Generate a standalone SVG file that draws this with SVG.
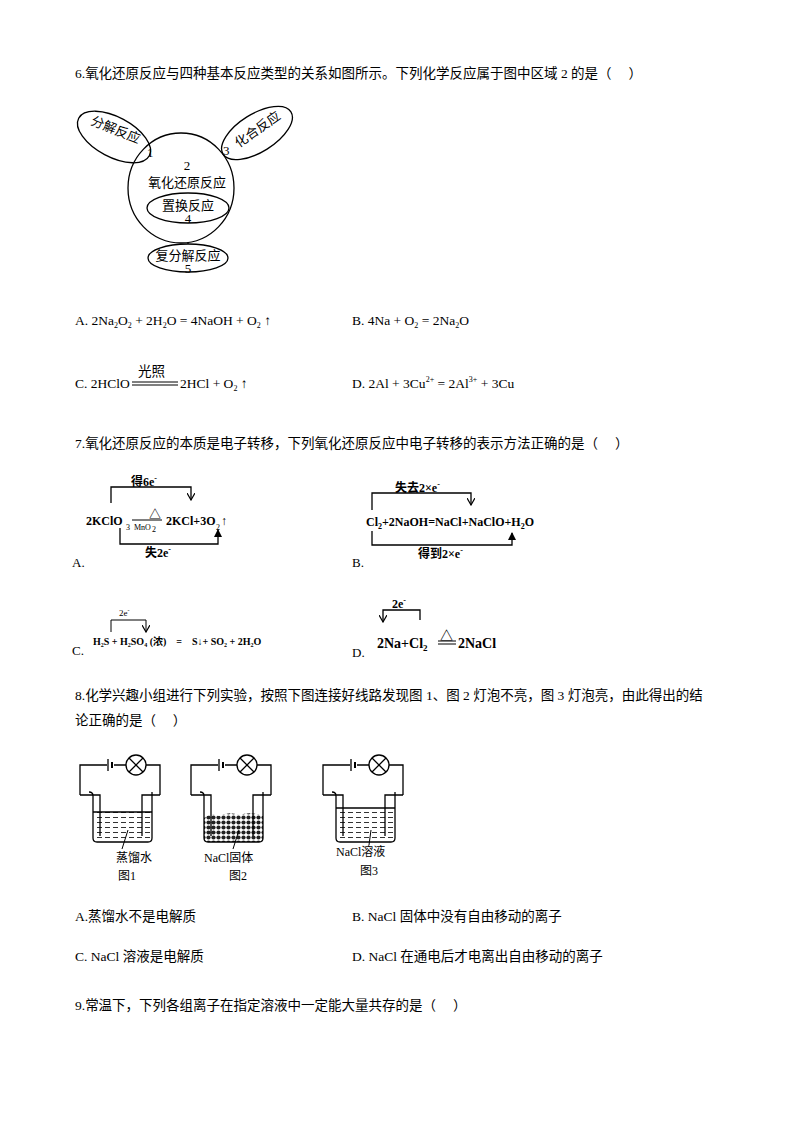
<svg xmlns="http://www.w3.org/2000/svg" width="794" height="1123" viewBox="0 0 794 1123">
<style>
text{font-family:"Liberation Serif","Noto Sans CJK SC",serif;font-size:13px;fill:#000}
.q{font-family:"Liberation Serif","Noto Sans CJK SC",serif;font-size:13.5px}
.s{fill:none;stroke:#000;stroke-width:1.3}
.b{font-weight:bold;font-size:12px}
.sm{font-size:12px}
.u{font-size:8px}
</style>
<defs>
<marker id="ar" markerWidth="8" markerHeight="8" refX="4" refY="7" orient="0" markerUnits="userSpaceOnUse"><path d="M0,0 L4,7 L8,0" fill="none" stroke="#000" stroke-width="1.2"/></marker>
<marker id="au" markerWidth="8" markerHeight="8" refX="4" refY="1" orient="0" markerUnits="userSpaceOnUse"><path d="M0,8 L4,0 L8,8 Z" fill="#000"/></marker>
<pattern id="liq" width="8" height="5" patternUnits="userSpaceOnUse"><path d="M1,2.5 H6" stroke="#333" stroke-width="1"/></pattern>
<pattern id="sol" width="5" height="5" patternUnits="userSpaceOnUse"><rect width="5" height="5" fill="#fff"/><circle cx="2.5" cy="2.5" r="2.1" fill="#222"/></pattern>
</defs>

<text class="q" x="75" y="78">6.氧化还原反应与四种基本反应类型的关系如图所示。下列化学反应属于图中区域 2 的是（　  ）</text>

<g id="venn">
<ellipse class="s" cx="181" cy="188" rx="53" ry="55"/>
<ellipse class="s" cx="114" cy="137" rx="40" ry="20" transform="rotate(28 114 137)"/>
<ellipse class="s" cx="257" cy="133" rx="40" ry="19" transform="rotate(-32 257 133)"/>
<ellipse class="s" cx="188" cy="208" rx="41" ry="15"/>
<ellipse class="s" cx="188" cy="258" rx="40" ry="14"/>
<line class="s" x1="188" y1="243" x2="188" y2="244"/>
<text x="114" y="134" text-anchor="middle" transform="rotate(22 114 134)">分解反应</text>
<text x="147" y="157">1</text>
<text x="260" y="133" text-anchor="middle" transform="rotate(-35 260 133)">化合反应</text>
<text x="223" y="155">3</text>
<text x="187" y="170" text-anchor="middle">2</text>
<text x="187" y="187" text-anchor="middle">氧化还原反应</text>
<text x="188" y="210" text-anchor="middle">置换反应</text>
<text x="188" y="223" text-anchor="middle">4</text>
<text x="188" y="260" text-anchor="middle">复分解反应</text>
<text x="188" y="273" text-anchor="middle">5</text>
</g>

<text class="q" x="75" y="325">A. 2Na<tspan class="u" dy="3">2</tspan><tspan dy="-3">O</tspan><tspan class="u" dy="3">2</tspan><tspan dy="-3"> + 2H</tspan><tspan class="u" dy="3">2</tspan><tspan dy="-3">O = 4NaOH + O</tspan><tspan class="u" dy="3">2</tspan><tspan dy="-3"> ↑</tspan></text>
<text class="q" x="352" y="325">B. 4Na + O<tspan class="u" dy="3">2</tspan><tspan dy="-3"> = 2Na</tspan><tspan class="u" dy="3">2</tspan><tspan dy="-3">O</tspan></text>
<text class="q" x="75" y="388">C. 2HClO</text>
<line x1="132" y1="382" x2="178" y2="382" stroke="#000"/><line x1="132" y1="385" x2="178" y2="385" stroke="#000"/>
<text class="q" x="138" y="376">光照</text>
<text class="q" x="180" y="388">2HCl + O<tspan class="u" dy="3">2</tspan><tspan dy="-3"> ↑</tspan></text>
<text class="q" x="352" y="388">D. 2Al + 3Cu<tspan class="u" dy="-6">2+</tspan><tspan dy="6"> = 2Al</tspan><tspan class="u" dy="-6">3+</tspan><tspan dy="6"> + 3Cu</tspan></text>

<text class="q" x="75" y="448">7.氧化还原反应的本质是电子转移，下列氧化还原反应中电子转移的表示方法正确的是（　  ）</text>

<g id="q7a">
<path class="s" d="M111,503 V487 H191 V500" marker-end="url(#ar)"/>
<text class="b" x="131" y="486">得6e<tspan class="u" dy="-5">-</tspan></text>
<text class="b" x="86" y="525">2KClO</text>
<text class="u" x="126" y="530">3</text>
<text class="b" x="149" y="519">△</text>
<line x1="132" y1="520" x2="162" y2="520" stroke="#000"/>
<text class="u" x="134" y="530">MnO</text><text class="u" x="152" y="532">2</text>
<text class="b" x="166" y="525">2KCl+3O</text><text class="u" x="216" y="530">2</text><text class="b" x="221" y="525">↑</text>
<path class="s" d="M120,528 V544 H218 V530" marker-end="url(#au)"/>
<text class="b" x="145" y="557">失2e<tspan class="u" dy="-5">-</tspan></text>
<text x="72" y="567">A.</text>
</g>

<g id="q7b">
<path class="s" d="M372,510 V493 H471 V505" marker-end="url(#ar)"/>
<text class="b" x="395" y="492">失去2×e<tspan class="u" dy="-5">-</tspan></text>
<text class="b" x="366" y="526">Cl<tspan class="u" dy="3">2</tspan><tspan dy="-3">+2NaOH=NaCl+NaClO+H</tspan><tspan class="u" dy="3">2</tspan><tspan dy="-3">O</tspan></text>
<path class="s" d="M372,531 V545 H512 V533" marker-end="url(#au)"/>
<text class="b" x="418" y="558">得到2×e<tspan class="u" dy="-5">-</tspan></text>
<text x="352" y="567">B.</text>
</g>

<g id="q7c">
<path d="M111,632 V620 H146 V632" fill="none" stroke="#000" stroke-width="1" marker-end="url(#ar)"/>
<text x="119" y="616" style="font-size:9px">2e<tspan dy="-4" style="font-size:6px">-</tspan></text>
<text x="93" y="645" style="font-size:10px;font-weight:bold">H₂S + H₂SO₄ (浓)　=　S↓+ SO₂ + 2H₂O</text>
<text x="72" y="655">C.</text>
</g>

<g id="q7d">
<path class="s" d="M420,620 V610 H383 V622" marker-end="url(#ar)"/>
<text class="b" x="392" y="608">2e<tspan class="u" dy="-5">-</tspan></text>
<text x="377" y="648" style="font-size:14px;font-weight:bold">2Na+Cl<tspan dy="3" style="font-size:9px">2</tspan></text>
<text x="440" y="640" style="font-size:13px;font-weight:bold">△</text>
<line x1="438" y1="641" x2="456" y2="641" stroke="#000"/><line x1="438" y1="644" x2="456" y2="644" stroke="#000"/>
<text x="458" y="648" style="font-size:14px;font-weight:bold">2NaCl</text>
<text x="352" y="657">D.</text>
</g>

<text class="q" x="75" y="700">8.化学兴趣小组进行下列实验，按照下图连接好线路发现图 1、图 2 灯泡不亮，图 3 灯泡亮，由此得出的结</text>
<text class="q" x="75" y="725">论正确的是（　  ）</text>

<g id="fig1">
<path class="s" d="M80,795 V765 H107 M114,765 H126 M146,765 H160 V795"/>
<line x1="108" y1="759" x2="108" y2="771" stroke="#000" stroke-width="1.3"/>
<line x1="112" y1="762" x2="112" y2="768" stroke="#000" stroke-width="2"/>
<circle class="s" cx="136" cy="765" r="10"/>
<path class="s" d="M129,758 L143,772 M143,758 L129,772"/>
<rect x="94" y="812" width="56" height="29" fill="url(#liq)"/>
<path class="s" d="M89,792 Q93,792 93,796 V838 Q93,842 97,842 H148 Q152,842 152,838 V792"/>
<path class="s" d="M93,812 H152"/>
<path class="s" d="M80,795 H100 V836 M160,795 H142 V836" stroke-width="2"/>
<line x1="128" y1="830" x2="122" y2="849" stroke="#000"/>
<text x="116" y="862" class="sm">蒸馏水</text>
<text x="118" y="880" class="sm">图1</text>
</g>

<g id="fig2" transform="translate(111,0)">
<path class="s" d="M80,795 V765 H107 M114,765 H126 M146,765 H160 V795"/>
<line x1="108" y1="759" x2="108" y2="771" stroke="#000" stroke-width="1.3"/>
<line x1="112" y1="762" x2="112" y2="768" stroke="#000" stroke-width="2"/>
<circle class="s" cx="136" cy="765" r="10"/>
<path class="s" d="M129,758 L143,772 M143,758 L129,772"/>
<path d="M93,818 Q100,812 108,816 Q118,811 128,815 Q140,811 152,816 V838 Q152,842 148,842 H97 Q93,842 93,838 Z" fill="url(#sol)"/>
<path class="s" d="M89,792 Q93,792 93,796 V838 Q93,842 97,842 H148 Q152,842 152,838 V792"/>
<path class="s" d="M80,795 H100 V836 M160,795 H142 V836" stroke-width="2"/>
<line x1="128" y1="830" x2="122" y2="849" stroke="#000"/>
<text x="93" y="862" class="sm">NaCl固体</text>
<text x="118" y="880" class="sm">图2</text>
</g>

<g id="fig3" transform="translate(243,0)">
<path class="s" d="M80,795 V765 H107 M114,765 H126 M146,765 H160 V795"/>
<line x1="108" y1="759" x2="108" y2="771" stroke="#000" stroke-width="1.3"/>
<line x1="112" y1="762" x2="112" y2="768" stroke="#000" stroke-width="2"/>
<circle class="s" cx="136" cy="765" r="10"/>
<path class="s" d="M129,758 L143,772 M143,758 L129,772"/>
<rect x="94" y="808" width="56" height="33" fill="url(#liq)"/>
<path class="s" d="M89,792 Q93,792 93,796 V838 Q93,842 97,842 H148 Q152,842 152,838 V792"/>
<path class="s" d="M93,808 H152"/>
<path class="s" d="M80,795 H100 V836 M160,795 H142 V836" stroke-width="2"/>
<line x1="128" y1="830" x2="126" y2="845" stroke="#000"/>
<text x="93" y="856" class="sm">NaCl溶液</text>
<text x="117" y="875" class="sm">图3</text>
</g>

<text class="q" x="75" y="921">A.蒸馏水不是电解质</text>
<text class="q" x="352" y="921">B. NaCl 固体中没有自由移动的离子</text>
<text class="q" x="75" y="961">C. NaCl 溶液是电解质</text>
<text class="q" x="352" y="961">D. NaCl 在通电后才电离出自由移动的离子</text>
<text class="q" x="75" y="1010">9.常温下，下列各组离子在指定溶液中一定能大量共存的是（　  ）</text>
</svg>
